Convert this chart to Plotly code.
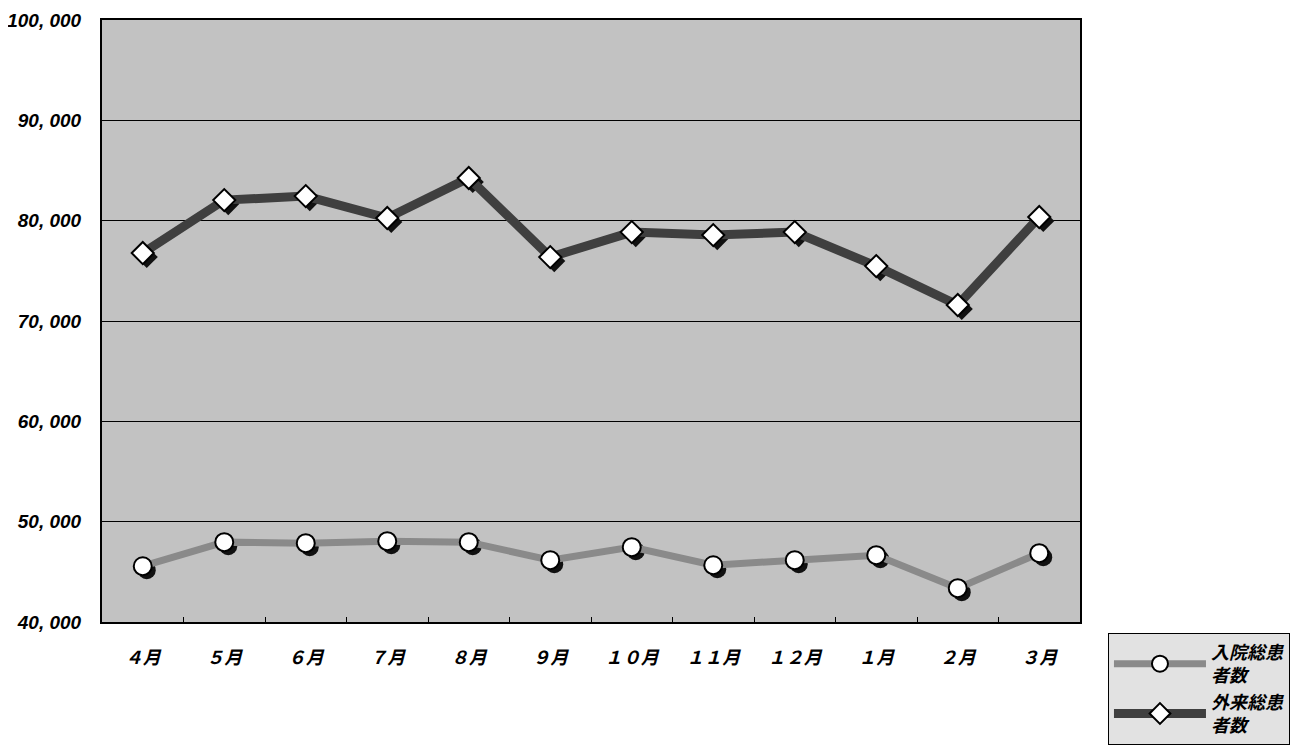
import plotly.graph_objects as go

months = ["４月", "５月", "６月", "７月", "８月", "９月", "１０月", "１１月", "１２月", "１月", "２月", "３月"]
inpatient = [45560, 47960, 47860, 48060, 47960, 46160, 47460, 45660, 46160, 46660, 43370, 46860]
outpatient = [76770, 82050, 82450, 80260, 84250, 76370, 78860, 78560, 78860, 75470, 71590, 80360]
y_ticks = [40000, 50000, 60000, 70000, 80000, 90000, 100000]
y_labels = ["40, 000", "50, 000", "60, 000", "70, 000", "80, 000", "90, 000", "100, 000"]

name_in = "入院総患<br>者数"
name_out = "外来総患<br>者数"

xr = [-0.5, 11.5]
yr = [40000, 100000]
px_x = (xr[1] - xr[0]) / 978
px_y = (yr[1] - yr[0]) / 602
sh = 4

fig = go.Figure()

# invisible trace to anchor the base axes
fig.add_trace(go.Scatter(x=months, y=inpatient, mode="lines", line=dict(width=0, color="rgba(0,0,0,0)"),
                         showlegend=False, hoverinfo="skip"))

# shadows (offset overlay axes x2/y2)
fig.add_trace(go.Scatter(x=months, y=outpatient, mode="markers", xaxis="x2", yaxis="y2",
                         marker=dict(symbol="diamond", size=17, color="#111"), showlegend=False, hoverinfo="skip"))
fig.add_trace(go.Scatter(x=months, y=inpatient, mode="markers", xaxis="x2", yaxis="y2",
                         marker=dict(symbol="circle", size=18, color="#111"), showlegend=False, hoverinfo="skip"))

# main series on top overlay axes x3/y3
fig.add_trace(go.Scatter(x=months, y=inpatient, mode="lines+markers", name=name_in, legendgroup="a",
                         xaxis="x3", yaxis="y3",
                         line=dict(color="#8a8a8a", width=7),
                         marker=dict(symbol="circle", size=18, color="white", line=dict(color="black", width=2))))
fig.add_trace(go.Scatter(x=months, y=outpatient, mode="lines+markers", name=name_out, legendgroup="b",
                         xaxis="x3", yaxis="y3",
                         line=dict(color="#3f3f3f", width=9),
                         marker=dict(symbol="diamond", size=17, color="white", line=dict(color="black", width=2))))

font_x = dict(family="Noto Sans CJK JP", size=18, color="black", style="italic", weight="bold")
font_y = dict(family="Liberation Sans", size=19, color="black", style="italic", weight="bold")

W, H = 1290, 739
fig.update_layout(
    width=W, height=H,
    margin=dict(l=94, r=218, t=12, b=125, autoexpand=False),
    paper_bgcolor="white",
    plot_bgcolor="#c2c2c2",
    xaxis=dict(type="category", categoryorder="array", categoryarray=months, range=xr, automargin=False,
               showgrid=False, zeroline=False, showline=True, linecolor="black", linewidth=2, mirror=True,
               ticks="inside", tickson="boundaries", ticklen=5, tickcolor="black",
               tickfont=font_x, ticklabelstandoff=18, ticklabeloverflow="allow"),
    yaxis=dict(range=yr, tickvals=y_ticks, ticktext=y_labels, showgrid=True, gridcolor="black", gridwidth=1,
               automargin=False, zeroline=False, showline=True, linecolor="black", linewidth=2, mirror=True,
               ticks="", tickfont=font_y, ticklabelstandoff=15, ticklabeloverflow="allow"),
    xaxis2=dict(type="category", categoryorder="array", categoryarray=months, overlaying="x",
                range=[xr[0] - sh * px_x, xr[1] - sh * px_x], visible=False),
    yaxis2=dict(overlaying="y", range=[yr[0] + sh * px_y, yr[1] + sh * px_y], visible=False),
    xaxis3=dict(type="category", categoryorder="array", categoryarray=months, overlaying="x",
                range=xr, visible=False),
    yaxis3=dict(overlaying="y", range=yr, visible=False),
    legend=dict(x=1.0286, y=-0.018, xanchor="left", yanchor="top",
                bgcolor="#e2e2e2", bordercolor="black", borderwidth=1,
                font=dict(family="Noto Sans CJK JP", size=18, color="black", style="italic", weight="bold"),
                tracegroupgap=0, itemwidth=92),
    showlegend=True,
)

fig.write_html("out.html")
